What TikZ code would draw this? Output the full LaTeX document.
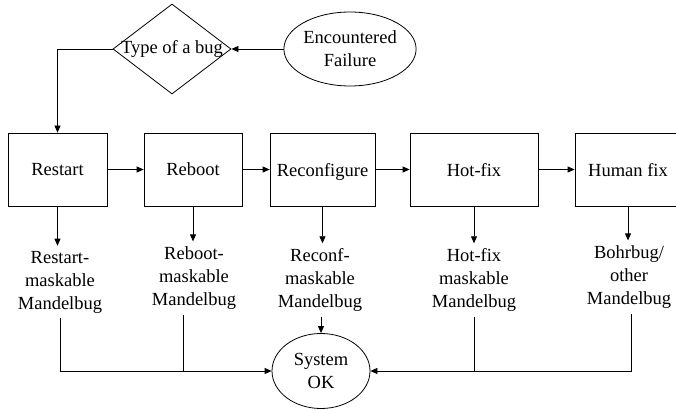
\documentclass[tikz,border=0pt]{standalone}
\usepackage{fontspec}
\setmainfont{Liberation Serif}
\usetikzlibrary{shapes.geometric,arrows.meta}

\begin{document}
\begin{tikzpicture}[x=1pt,y=-1pt,
  every node/.style={font=\fontsize{18.5}{23}\selectfont},
  flow/.style={line width=0.8pt},
  arr/.style={flow,-{Triangle[length=7pt,width=6pt]}},
  stage/.style={draw,line width=0.8pt,minimum height=73pt,inner sep=0pt,text depth=0pt},
  outcome/.style={align=center,inner xsep=0pt,inner ysep=5pt},
  oval/.style={ellipse,draw,line width=0.8pt,inner sep=0pt,align=center},
]
\useasboundingbox (0,0) rectangle (676,411);
\clip (0,0) rectangle (676,411);

% decision and entry point
\node[diamond,draw,line width=0.8pt,minimum width=118pt,minimum height=90pt,
      inner sep=0pt,label=center:{Type of a bug}] (bug) at (172,49) {};
\node[oval,minimum width=129pt,minimum height=74pt] (fail) at (350,49) {Encountered\\Failure};

% recovery stages
\node[stage,minimum width=99pt]  (restart) at (57.5,169.5) {Restart};
\node[stage,minimum width=98pt]  (reboot)  at (193,169.5)  {Reboot};
\node[stage,minimum width=105pt] (reconf)  at (322.5,169.5) {Reconfigure};
\node[stage,minimum width=128pt] (hotfix)  at (474,169.5)  {Hot-fix};
\node[stage,minimum width=106pt] (human)   at (628,169.5)  {Human fix};

% bug classes
\node[outcome] (lrestart) at (60,282)  {Restart-\\maskable\\Mandelbug};
\node[outcome] (lreboot)  at (194,278) {Reboot-\\maskable\\Mandelbug};
\node[outcome] (lreconf)  at (320,280) {Reconf-\\maskable\\Mandelbug};
\node[outcome] (lhotfix)  at (474,280) {Hot-fix\\maskable\\Mandelbug};
\node[outcome] (lhuman)   at (629,277) {Bohrbug/\\other\\Mandelbug};

% final state
\node[oval,minimum width=98pt,minimum height=75pt] (ok) at (321,371) {System\\OK};

% top flow
\draw[arr] (fail) -- (bug);
\draw[arr] (bug.west) -| (restart.north);

% escalation chain
\draw[arr] (restart) -- (reboot);
\draw[arr] (reboot) -- (reconf);
\draw[arr] (reconf) -- (hotfix);
\draw[arr] (hotfix) -- (human);

% stage to bug class
\draw[arr] (restart.south) -- (restart.south |- lrestart.north);
\draw[arr] (reboot.south)  -- (reboot.south |- lreboot.north);
\draw[arr] (reconf.south)  -- (reconf.south |- lreconf.north);
\draw[arr] (hotfix.south)  -- (hotfix.south |- lhotfix.north);
\draw[arr] (human.south)   -- (human.south |- lhuman.north);

% bug class to system OK
\draw[arr] (lrestart.south) |- (ok.west);
\draw[flow] ([xshift=-11pt]lreboot.south) -- ([xshift=-11pt]lreboot.south |- ok.west);
\draw[arr] (lreconf.south -| ok.north) -- (ok.north);
\draw[flow] (lhotfix.south) -- (lhotfix.south |- ok.east);
\draw[arr] ([xshift=2pt]lhuman.south) |- (ok.east);
\end{tikzpicture}
\end{document}
